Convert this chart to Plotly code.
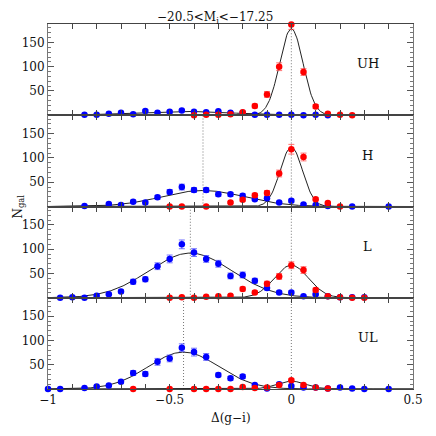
import numpy as np
import plotly.graph_objects as go
from plotly.subplots import make_subplots

panel_names = ["UH", "H", "L", "UL"]

# ---- data: blue (x, N, err) and red (x, N, err) per panel ----
uh_blue_x = [-0.85, -0.8, -0.75, -0.7, -0.65, -0.6, -0.55, -0.5, -0.45, -0.4, -0.35, -0.3, -0.25, -0.2, -0.15, -0.1, -0.05, 0.0, 0.05, 0.1, 0.15]
uh_blue_y = [1, 1, 3, 5, 2, 9, 5, 7, 10, 7, 6, 8, 5, 5, 1, 1, 1, 1, 0, 1, 0]
uh_blue_e = [1, 1, 1, 2, 1, 2, 2, 2, 2, 2, 2, 2, 2, 2, 1, 1, 1, 1, 0, 1, 0]
uh_red_x = [-0.4, -0.35, -0.3, -0.25, -0.2, -0.15, -0.1, -0.05, 0.0, 0.05, 0.1, 0.15, 0.2, 0.25]
uh_red_y = [0, 1, 1, 2, 6, 19, 43, 100, 187, 89, 18, 3, 1, 0]
uh_red_e = [0, 1, 1, 1, 2, 4, 6, 8, 10, 7, 4, 2, 1, 0]

h_blue_x = [-0.85, -0.75, -0.7, -0.65, -0.6, -0.55, -0.5, -0.45, -0.4, -0.35, -0.3, -0.25, -0.2, -0.15, -0.1, -0.05, 0.0, 0.05, 0.1, 0.15, 0.25, 0.4]
h_blue_y = [1, 5, 3, 10, 8, 19, 30, 40, 34, 34, 25, 25, 22, 15, 17, 8, 12, 4, 3, 1, 0, 0]
h_blue_e = [1, 2, 2, 3, 3, 4, 5, 6, 5, 5, 4, 4, 4, 3, 3, 2, 3, 2, 1, 1, 0, 0]
h_red_x = [-0.5, -0.45, -0.35, -0.25, -0.2, -0.15, -0.1, -0.05, 0.0, 0.05, 0.1, 0.15, 0.2]
h_red_y = [0, 0, 0, 8, 14, 23, 28, 68, 118, 102, 15, 7, 0]
h_red_e = [0, 0, 0, 2, 3, 4, 5, 7, 10, 8, 3, 2, 0]

l_blue_x = [-0.95, -0.9, -0.85, -0.8, -0.75, -0.7, -0.65, -0.6, -0.55, -0.5, -0.45, -0.4, -0.35, -0.3, -0.25, -0.2, -0.15, -0.1, -0.05, 0.0, 0.05, 0.1, 0.15, 0.2, 0.25, 0.3]
l_blue_y = [0, 1, 0, 4, 7, 13, 33, 38, 65, 80, 110, 93, 80, 70, 45, 47, 35, 20, 11, 11, 3, 7, 3, 1, 1, 1]
l_blue_e = [0, 1, 0, 2, 2, 3, 5, 5, 7, 8, 9, 8, 7, 7, 6, 6, 5, 4, 3, 3, 2, 2, 1, 1, 1, 1]
l_red_x = [-0.5, -0.45, -0.4, -0.35, -0.3, -0.25, -0.2, -0.15, -0.1, -0.05, 0.0, 0.05, 0.1, 0.15, 0.2, 0.25, 0.3]
l_red_y = [0, 1, 0, 2, 3, 4, 18, 11, 29, 44, 67, 57, 16, 3, 1, 0, 0]
l_red_e = [0, 1, 0, 1, 1, 2, 4, 3, 5, 6, 7, 7, 4, 2, 1, 0, 0]

ul_blue_x = [-1.0, -0.95, -0.85, -0.8, -0.75, -0.7, -0.65, -0.6, -0.55, -0.5, -0.45, -0.4, -0.35, -0.3, -0.25, -0.2, -0.15, -0.1, -0.05, 0.0, 0.05, 0.1, 0.15, 0.2, 0.25, 0.3, 0.4]
ul_blue_y = [0, 0, 2, 5, 7, 15, 33, 31, 56, 63, 85, 76, 66, 29, 22, 26, 8, 1, 10, 6, 3, 3, 1, 3, 1, 0, 0]
ul_blue_e = [0, 0, 1, 2, 2, 3, 5, 5, 7, 7, 8, 8, 7, 4, 4, 4, 2, 1, 3, 2, 1, 1, 1, 1, 1, 0, 0]
ul_red_x = [-0.65, -0.5, -0.4, -0.35, -0.3, -0.25, -0.2, -0.15, -0.1, -0.05, 0.0, 0.05, 0.1, 0.15]
ul_red_y = [0, 0, 0, 0, 0, 0, 4, 2, 3, 8, 18, 8, 3, 1]
ul_red_e = [0, 0, 0, 0, 0, 0, 1, 1, 1, 2, 3, 2, 1, 1]

# Gaussian fit parameters per panel (amplitude, mean, sigma)
blue_amp = [8, 33, 92, 76]
blue_mu = [-0.45, -0.363, -0.415, -0.443]
blue_sig = [0.2, 0.17, 0.17, 0.145]
red_amp = [178, 122, 67, 16]
red_mu = [0.0, 0.0, 0.0, 0.0]
red_sig = [0.048, 0.046, 0.07, 0.06]
# dotted lines at fitted peaks (blue one not drawn in UH panel)
show_blue_line = [False, True, True, True]

blue_sets = [(uh_blue_x, uh_blue_y, uh_blue_e), (h_blue_x, h_blue_y, h_blue_e),
             (l_blue_x, l_blue_y, l_blue_e), (ul_blue_x, ul_blue_y, ul_blue_e)]
red_sets = [(uh_red_x, uh_red_y, uh_red_e), (h_red_x, h_red_y, h_red_e),
            (l_red_x, l_red_y, l_red_e), (ul_red_x, ul_red_y, ul_red_e)]

FONT = "DejaVu Serif"
# page body has an 8px margin, so the figure is 428px and offsets are reduced by 8
W, H = 428, 428
ML, MR, MT, MB = 40, 23, 16, 47

fig = make_subplots(rows=4, cols=1, shared_xaxes=True, vertical_spacing=0)

xs = np.linspace(-1, 0.5, 400)
for i in range(4):
    r = i + 1
    for amp, mu, sig in [(blue_amp[i], blue_mu[i], blue_sig[i]), (red_amp[i], red_mu[i], red_sig[i])]:
        fig.add_trace(go.Scatter(x=xs, y=amp * np.exp(-(xs - mu) ** 2 / (2 * sig ** 2)),
                                 mode="lines", line=dict(color="#222", width=1),
                                 showlegend=False, hoverinfo="skip"), row=r, col=1)
    bx, by, be = blue_sets[i]
    fig.add_trace(go.Scatter(x=bx, y=by, mode="markers",
                             marker=dict(color="#0000ff", size=6.5),
                             error_y=dict(type="data", array=be, color="rgba(70,70,255,0.75)",
                                          thickness=1, width=3),
                             cliponaxis=False, showlegend=False), row=r, col=1)
    rx, ry, re_ = red_sets[i]
    fig.add_trace(go.Scatter(x=rx, y=ry, mode="markers",
                             marker=dict(color="#ff0000", size=6.5),
                             error_y=dict(type="data", array=re_, color="rgba(255,70,70,0.75)",
                                          thickness=1, width=3),
                             cliponaxis=False, showlegend=False), row=r, col=1)

    yref = "y" if r == 1 else f"y{r}"
    xref = "x" if r == 1 else f"x{r}"
    peaks = [red_mu[i]] + ([blue_mu[i]] if show_blue_line[i] else [])
    for p in peaks:
        fig.add_shape(type="line", x0=p, x1=p, y0=0, y1=1, xref=xref, yref=yref + " domain",
                      line=dict(color="#777", width=1, dash="1px,2px"), layer="below")
    fig.add_annotation(x=0.315, y=106, xref=xref, yref=yref, text=panel_names[i],
                       showarrow=False, font=dict(family=FONT, size=13, color="#111"))

    fig.update_yaxes(range=[0, 188], tickvals=[50, 100, 150], ticks="inside", ticklen=6,
                     tickcolor="#555", showline=True, linecolor="#777", linewidth=1,
                     mirror="ticks", showgrid=False, zeroline=False,
                     minor=dict(dtick=10, tick0=0, ticks="inside", ticklen=3, tickcolor="#777"),
                     tickfont=dict(family=FONT, size=12, color="#111"), row=r, col=1)
    fig.update_xaxes(range=[-1, 0.5], tickvals=[-1, -0.5, 0, 0.5],
                     ticktext=["\u22121", "\u22120.5", "0", "0.5"],
                     ticks="inside", ticklen=5, tickcolor="#444",
                     showline=True, linecolor="#444", linewidth=1, mirror="ticks",
                     showgrid=False, zeroline=False,
                     minor=dict(dtick=0.1, tick0=0, ticks="inside", ticklen=5, tickcolor="#444"),
                     tickfont=dict(family=FONT, size=12, color="#111"), row=r, col=1)

fig.add_annotation(x=(207 - ML) / (W - ML - MR), y=1, xref="paper", yref="paper",
                   yanchor="top", yshift=MT,
                   text="\u221220.5&lt;M<sub>i</sub>&lt;\u221217.25", showarrow=False,
                   font=dict(family=FONT, size=12, color="#111"))
fig.add_annotation(x=0.5, y=0, xref="paper", yref="paper", yanchor="middle", yshift=-29,
                   text="\u0394(g\u2212i)", showarrow=False,
                   font=dict(family=FONT, size=12, color="#111"))
fig.add_annotation(x=0, y=0.5, xref="paper", yref="paper", xanchor="left", xshift=-ML,
                   text="N<sub>gal</sub>", textangle=-90, showarrow=False,
                   font=dict(family=FONT, size=12, color="#111"))

fig.update_layout(width=W, height=H, margin=dict(l=ML, r=MR, t=MT, b=MB),
                  paper_bgcolor="white", plot_bgcolor="white", showlegend=False)
fig.write_html("out.html", config={"displayModeBar": False})
